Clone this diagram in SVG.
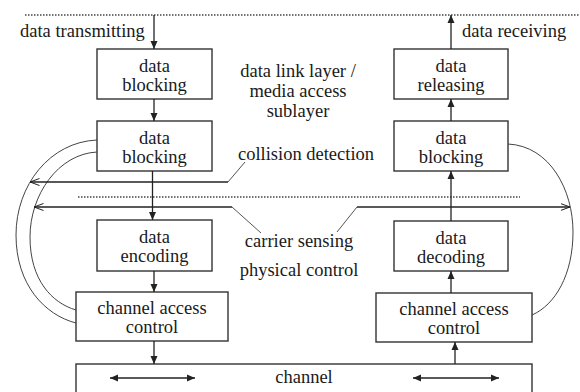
<svg xmlns="http://www.w3.org/2000/svg" width="580" height="392" viewBox="0 0 580 392">
<defs>
<marker id="fa" viewBox="0 0 8 8" refX="8" refY="4" markerWidth="8" markerHeight="8" markerUnits="userSpaceOnUse" orient="auto-start-reverse">
<path d="M0,0.5 L8,4 L0,7.5 z" fill="#222"/>
</marker>
<marker id="oa" viewBox="0 0 10 8" refX="9.5" refY="4" markerWidth="10" markerHeight="8" markerUnits="userSpaceOnUse" orient="auto-start-reverse">
<path d="M0,0.5 L9.5,4 L0,7.5" fill="none" stroke="#222" stroke-width="1"/>
</marker>
</defs>
<style>
.box{fill:#fff;stroke:#333;stroke-width:1.4}
.t{font-family:"Liberation Serif","Times New Roman",serif;font-size:18.5px;fill:#1a1a1a}
.m{text-anchor:middle}
.ln{stroke:#222;stroke-width:1.3;fill:none}
.dot{stroke:#444;stroke-width:1.3;stroke-dasharray:1.5 1.5;fill:none}
.cv{stroke:#444;stroke-width:1;fill:none}
.ld{stroke:#555;stroke-width:1;fill:none}
</style>
<rect width="580" height="392" fill="#fff"/>
<g id="dividers">
<line class="dot" x1="25" y1="15" x2="580" y2="15"/>
<line class="dot" x1="78" y1="197" x2="520" y2="197"/>
</g>
<g id="n-data-blocking-1"><rect class="box" x="97" y="49" width="115" height="50"/><text class="t m" x="154.5" y="72">data</text><text class="t m" x="154.5" y="91">blocking</text></g>
<g id="n-data-blocking-2"><rect class="box" x="97" y="121" width="115" height="50"/><text class="t m" x="154.5" y="144">data</text><text class="t m" x="154.5" y="163">blocking</text></g>
<g id="n-data-encoding"><rect class="box" x="97" y="220" width="115" height="51"/><text class="t m" x="154.5" y="243">data</text><text class="t m" x="154.5" y="262">encoding</text></g>
<g id="n-cac-left"><rect class="box" x="76" y="292" width="152" height="49"/><text class="t m" x="152" y="314">channel access</text><text class="t m" x="152" y="333">control</text></g>
<g id="n-data-releasing"><rect class="box" x="394" y="49" width="114" height="50"/><text class="t m" x="451" y="72">data</text><text class="t m" x="451" y="91">releasing</text></g>
<g id="n-data-blocking-r"><rect class="box" x="394" y="121" width="114" height="50"/><text class="t m" x="451" y="144">data</text><text class="t m" x="451" y="163">blocking</text></g>
<g id="n-data-decoding"><rect class="box" x="394" y="221" width="114" height="50"/><text class="t m" x="451" y="244">data</text><text class="t m" x="451" y="263">decoding</text></g>
<g id="n-cac-right"><rect class="box" x="376" y="293" width="156" height="49"/><text class="t m" x="454" y="315">channel access</text><text class="t m" x="454" y="334">control</text></g>
<g id="n-channel"><rect class="box" x="76" y="364" width="456" height="40"/><text class="t m" x="304" y="383">channel</text></g>
<g id="connectors">
<line class="ln" x1="154" y1="15" x2="154" y2="49" marker-end="url(#fa)"/>
<line class="ln" x1="154" y1="99" x2="154" y2="121" marker-end="url(#fa)"/>
<line class="ln" x1="152.5" y1="171" x2="152.5" y2="220" marker-end="url(#fa)"/>
<line class="ln" x1="154" y1="271" x2="154" y2="292" marker-end="url(#fa)"/>
<line class="ln" x1="154" y1="341" x2="154" y2="364" marker-end="url(#fa)"/>
<line class="ln" x1="451" y1="49" x2="451" y2="15" marker-end="url(#fa)"/>
<line class="ln" x1="451" y1="121" x2="451" y2="99" marker-end="url(#fa)"/>
<line class="ln" x1="451" y1="221" x2="451" y2="171" marker-end="url(#fa)"/>
<line class="ln" x1="451" y1="293" x2="451" y2="271" marker-end="url(#fa)"/>
<line class="ln" x1="455" y1="364" x2="455" y2="342" marker-end="url(#fa)"/>
<line class="ln" x1="110" y1="378" x2="195" y2="378" marker-start="url(#fa)" marker-end="url(#fa)"/>
<line class="ln" x1="413" y1="378" x2="499" y2="378" marker-start="url(#fa)" marker-end="url(#fa)"/>
<path class="cv" d="M97,140 C50,142 16,185 16,235 C16,285 45,315 76,323"/>
<path class="cv" d="M97,152 C58,154 30,195 30,237 C30,280 52,303 76,310"/>
<path class="cv" d="M508,144 C550,146 573,190 573,232 C573,275 555,305 532,315"/>
<path class="ln" d="M228,182 L30,182" marker-end="url(#oa)"/>
<line class="ld" x1="228" y1="182" x2="245" y2="162"/>
<path class="ln" d="M232,207 L34,207" marker-end="url(#oa)"/>
<line class="ld" x1="232" y1="207" x2="261" y2="233"/>
<path class="ln" d="M357,207 L570,207" marker-end="url(#oa)"/>
<line class="ld" x1="357" y1="207" x2="337" y2="232"/>
</g>
<g id="labels">
<text class="t" x="20" y="37">data transmitting</text>
<text class="t" x="462" y="37">data receiving</text>
<text class="t m" x="298" y="77">data link layer /</text>
<text class="t m" x="298" y="97">media access</text>
<text class="t m" x="298" y="117">sublayer</text>
<text class="t m" x="306" y="160">collision detection</text>
<text class="t m" x="299" y="247">carrier sensing</text>
<text class="t m" x="299" y="276">physical control</text>
</g>
</svg>
